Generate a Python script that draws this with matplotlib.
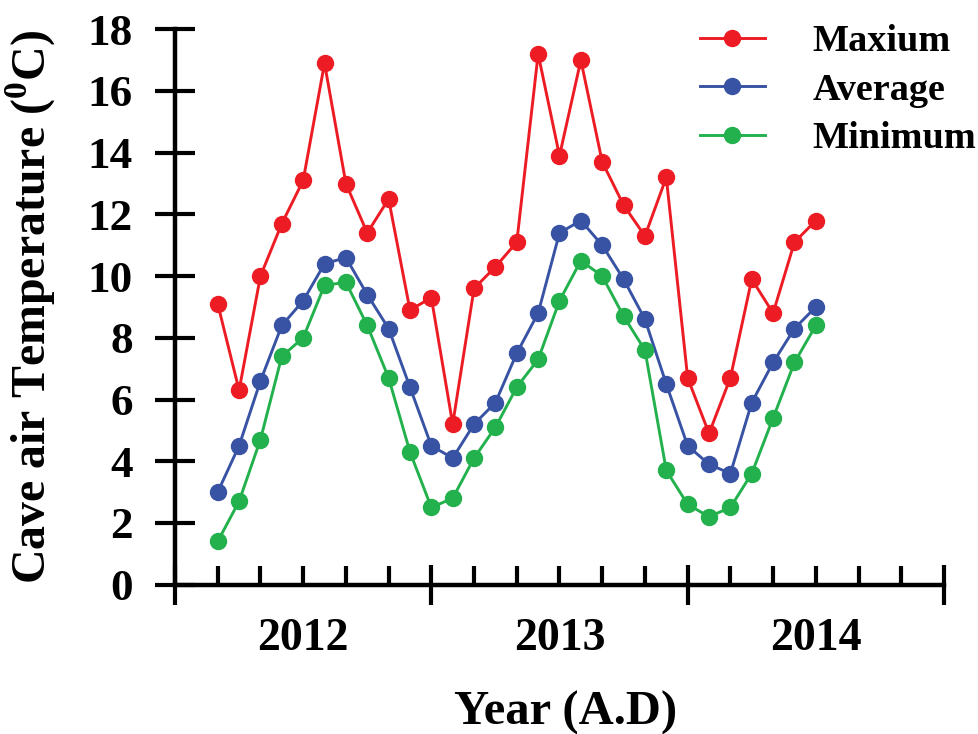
import matplotlib
matplotlib.use("Agg")
import matplotlib.pyplot as plt
from matplotlib.ticker import FixedLocator, FixedFormatter

# Monthly cave air temperature (deg C), March 2012 to July 2014
start_year = 2012
first_month = 2          # months after Jan 2012 of the first reading
maximum = [9.1, 6.3, 10.0, 11.7, 13.1, 16.9, 13.0, 11.4, 12.5, 8.9, 9.3, 5.2,
           9.6, 10.3, 11.1, 17.2, 13.9, 17.0, 13.7, 12.3, 11.3, 13.2, 6.7, 4.9,
           6.7, 9.9, 8.8, 11.1, 11.8]
average = [3.0, 4.5, 6.6, 8.4, 9.2, 10.4, 10.6, 9.4, 8.3, 6.4, 4.5, 4.1,
           5.2, 5.9, 7.5, 8.8, 11.4, 11.8, 11.0, 9.9, 8.6, 6.5, 4.5, 3.9,
           3.6, 5.9, 7.2, 8.3, 9.0]
minimum = [1.4, 2.7, 4.7, 7.4, 8.0, 9.7, 9.8, 8.4, 6.7, 4.3, 2.5, 2.8,
           4.1, 5.1, 6.4, 7.3, 9.2, 10.5, 10.0, 8.7, 7.6, 3.7, 2.6, 2.2,
           2.5, 3.6, 5.4, 7.2, 8.4]
series_labels = ["Maxium", "Average", "Minimum"]
series_colors = ["#ED1C24", "#3953A4", "#22B14C"]
year_labels = ["2012", "2013", "2014"]
y_ticks = [0, 2, 4, 6, 8, 10, 12, 14, 16, 18]

x = [start_year + (first_month + i) / 12 for i in range(len(maximum))]

plt.rcParams["font.family"] = ["Liberation Serif", "DejaVu Serif"]
plt.rcParams["font.weight"] = "bold"
plt.rcParams["mathtext.fontset"] = "custom"
plt.rcParams["mathtext.rm"] = "Liberation Serif:bold"
plt.rcParams["mathtext.bf"] = "Liberation Serif:bold"

W, H = 979, 734
fig = plt.figure(figsize=(W / 100, H / 100), dpi=100)
ax = fig.add_axes([175 / W, 1 - 584.6 / H, (944 - 175) / W, (584.6 - 29.3) / H])

for vals, lab, col in zip([maximum, average, minimum], series_labels, series_colors):
    ax.plot(x, vals, color=col, lw=2.1, marker="o", ms=11.5, mec=col, mfc=col,
            label=lab, clip_on=False)

ax.set_xlim(start_year, start_year + 3)
ax.set_ylim(0, 18)

for s in ("top", "right"):
    ax.spines[s].set_visible(False)
for s in ("left", "bottom"):
    ax.spines[s].set_linewidth(3.2)

# Year boundaries: long ticks crossing the axis, no labels
ax.xaxis.set_major_locator(FixedLocator([start_year + k for k in range(4)]))
ax.xaxis.set_major_formatter(FixedFormatter([""] * 4))
# Two-month ticks inside; mid-year ticks carry the year labels
minor_pos = [start_year + k / 6 for k in range(18) if k % 6 != 0]
minor_lab = []
for k in range(18):
    if k % 6 == 0:
        continue
    minor_lab.append(year_labels[k // 6] if k % 6 == 3 else "")
ax.xaxis.set_minor_locator(FixedLocator(minor_pos))
ax.xaxis.set_minor_formatter(FixedFormatter(minor_lab))

ax.tick_params(axis="x", which="major", direction="inout", length=28.5, width=3.0)
ax.tick_params(axis="x", which="minor", direction="in", length=14, width=3.0,
               labelsize=33, pad=24)
ax.set_yticks(y_ticks)
ax.set_yticklabels([str(v) for v in y_ticks])
ax.tick_params(axis="y", which="major", direction="inout", length=28.5, width=3.0,
               labelsize=32.5, pad=16)

fig.text(31 / W, 1 - 307 / H, r"Cave air Temperature ($^{0}$C)", rotation=90,
         ha="center", va="center", fontsize=34.5, fontweight="bold")
fig.text(566 / W, 1 - 713 / H, "Year (A.D)", ha="center", va="center",
         fontsize=35, fontweight="bold")

ax.legend(loc="upper left", bbox_to_anchor=(700 / W, 1 - 24 / H),
          bbox_transform=fig.transFigure, frameon=False, fontsize=27.5,
          handlelength=1.7, handletextpad=1.25, labelspacing=0.36,
          borderpad=0, borderaxespad=0, markerscale=1.0)

fig.savefig("out.png", dpi=100)
